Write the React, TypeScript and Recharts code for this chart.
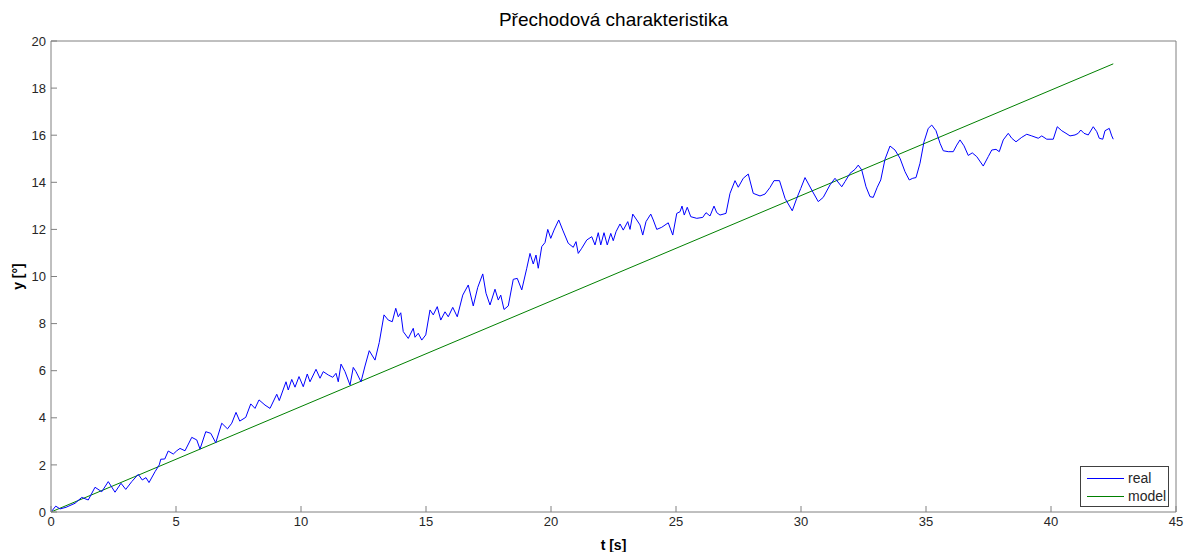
import React from 'react';
import { LineChart, Line, XAxis, YAxis } from 'recharts';

// měřená odezva (real)
const realTime = [
  0, 0.19, 0.36, 0.6, 0.96, 1.23, 1.49, 1.76, 2.03, 2.29, 2.56, 2.8, 2.99, 3.23, 3.49, 3.65, 3.8, 3.92,
  4.16, 4.33, 4.39, 4.55, 4.69, 4.89, 5.03, 5.16, 5.36, 5.63, 5.83, 5.96, 6.19, 6.39, 6.59, 6.83, 7.06,
  7.23, 7.4, 7.55, 7.79, 7.99, 8.16, 8.32, 8.56, 8.76, 9.03, 9.13, 9.4, 9.49, 9.63, 9.76, 9.92, 10.09,
  10.25, 10.36, 10.6, 10.76, 10.89, 11.09, 11.27, 11.4, 11.49, 11.6, 11.76, 11.96, 12.09, 12.2, 12.4,
  12.56, 12.73, 12.96, 13.13, 13.32, 13.49, 13.65, 13.79, 13.89, 13.99, 14.09, 14.29, 14.49, 14.56,
  14.69, 14.83, 14.99, 15.16, 15.29, 15.45, 15.59, 15.76, 15.89, 16.07, 16.25, 16.47, 16.69, 16.89,
  17.07, 17.27, 17.4, 17.56, 17.76, 17.89, 17.99, 18.12, 18.29, 18.49, 18.65, 18.83, 19.03, 19.16,
  19.29, 19.4, 19.49, 19.63, 19.76, 19.87, 19.99, 20.12, 20.31, 20.47, 20.69, 20.89, 21.0, 21.09,
  21.23, 21.43, 21.63, 21.76, 21.89, 21.99, 22.12, 22.25, 22.39, 22.49, 22.6, 22.76, 22.89, 23.07,
  23.16, 23.27, 23.43, 23.56, 23.67, 23.8, 23.99, 24.09, 24.23, 24.43, 24.69, 24.87, 25.03, 25.16,
  25.24, 25.33, 25.45, 25.59, 25.83, 26.07, 26.2, 26.36, 26.52, 26.63, 26.76, 27.0, 27.16, 27.36,
  27.49, 27.69, 27.89, 28.09, 28.36, 28.56, 28.76, 28.92, 29.14, 29.36, 29.65, 29.83, 29.99, 30.16,
  30.43, 30.69, 30.89, 31.16, 31.36, 31.63, 31.76, 31.96, 32.16, 32.29, 32.43, 32.6, 32.76, 32.89,
  33.05, 33.19, 33.36, 33.56, 33.76, 33.96, 34.16, 34.33, 34.47, 34.6, 34.76, 34.92, 35.09, 35.23,
  35.4, 35.56, 35.69, 35.89, 36.09, 36.23, 36.36, 36.52, 36.69, 36.85, 37.03, 37.29, 37.49, 37.63,
  37.8, 37.93, 38.09, 38.29, 38.43, 38.6, 38.83, 39.03, 39.23, 39.49, 39.63, 39.83, 40.09, 40.25,
  40.43, 40.6, 40.76, 40.96, 41.09, 41.19, 41.32, 41.49, 41.69, 41.83, 41.93, 42.07, 42.16, 42.33,
  42.43, 42.49,
];

const realValue = [
  0, 0.25, 0.13, 0.2, 0.37, 0.62, 0.51, 1.05, 0.86, 1.29, 0.84, 1.22, 0.96, 1.29, 1.6, 1.36, 1.46, 1.25,
  1.71, 2.0, 2.24, 2.25, 2.59, 2.46, 2.6, 2.7, 2.6, 3.17, 3.06, 2.67, 3.41, 3.34, 2.94, 3.77, 3.53,
  3.77, 4.23, 3.86, 4.02, 4.59, 4.4, 4.76, 4.54, 4.4, 5.0, 4.73, 5.53, 5.18, 5.63, 5.3, 5.75, 5.32,
  5.86, 5.53, 6.06, 5.68, 5.96, 5.82, 5.72, 5.89, 5.53, 6.28, 5.96, 5.39, 6.14, 5.96, 5.53,
  6.2, 6.85, 6.45, 7.2, 8.37, 8.15, 8.08, 8.65, 8.29, 8.46, 7.66, 7.37, 7.8, 7.42,
  7.59, 7.3, 7.52, 8.58, 8.37, 8.72, 8.15, 8.5, 8.29, 8.69, 8.29, 9.21, 9.64, 8.75,
  9.54, 10.11, 9.29, 8.79, 9.46, 9.0, 9.21, 8.6, 8.75, 9.88, 9.92, 9.43, 10.35, 10.98,
  10.53, 10.91, 10.35, 11.27, 11.44, 12.0, 11.62, 11.97, 12.4, 11.97, 11.41, 11.24, 11.48, 10.98,
  11.2, 11.55, 11.69, 11.34, 11.86, 11.34, 11.86, 11.34, 11.83, 11.52, 11.9, 12.23, 11.97, 12.33,
  12.0, 12.65, 12.4, 12.19, 11.76, 12.33, 12.65, 12.4, 12.0, 12.09, 12.28, 11.76, 12.68, 12.75,
  12.99, 12.61, 12.94, 12.54, 12.47, 12.51, 12.71, 12.57, 12.99, 12.71, 12.61, 12.68, 13.53, 14.07,
  13.79, 14.17, 14.35, 13.53, 13.42, 13.5, 13.78, 14.07, 14.07, 13.32, 12.79, 13.32, 13.74, 14.2,
  13.67, 13.18, 13.36, 13.89, 14.17, 13.81, 14.03, 14.38, 14.55, 14.73, 14.52, 13.81, 13.39, 13.36,
  13.79, 14.1, 14.98, 15.54, 15.37, 15.02, 14.45, 14.1, 14.17, 14.2, 14.81, 15.72, 16.29, 16.43,
  16.19, 15.66, 15.34, 15.3, 15.3, 15.58, 15.8, 15.55, 15.14, 15.25, 15.09, 14.69, 15.09, 15.37,
  15.4, 15.3, 15.8, 16.08, 15.87, 15.72, 15.91, 16.04, 15.97, 15.87, 15.97, 15.83, 15.83, 16.36,
  16.19, 16.08, 15.97, 16.01, 16.08, 16.22, 16.08, 16.01, 16.36, 16.15, 15.87, 15.83, 16.19, 16.29,
  15.97, 15.83,
];

// model – přímka
const modelTime = [0, 42.49];
const modelValue = [0, 19.03];

const xTicks = [0, 5, 10, 15, 20, 25, 30, 35, 40, 45];
const yTicks = [0, 2, 4, 6, 8, 10, 12, 14, 16, 18, 20];

const realData = realTime.map((t, i) => ({ t, y: realValue[i] }));
const modelData = modelTime.map((t, i) => ({ t, y: modelValue[i] }));

const FONT = '"Liberation Sans", Arial, sans-serif';
const frame = '#808080';
const tickStyle = { fill: '#262626', fontSize: 13, fontFamily: FONT };

const legendItems = [
  { name: 'real', color: '#0000ff' },
  { name: 'model', color: '#008000' },
];

const App: React.FC = () => {
  return (
    <div style={{ position: 'absolute', left: 0, top: 0, width: 1192, height: 552, background: '#fff', fontFamily: FONT }}>
      <div style={{ position: 'absolute', left: 0, top: 9, width: 1227, textAlign: 'center', fontSize: 19, color: '#000' }}>
        Přechodová charakteristika
      </div>
      <LineChart
        width={1192}
        height={552}
        margin={{ top: 40, right: 15, left: 0, bottom: 0 }}
      >
        <XAxis
          xAxisId="bottom"
          dataKey="t"
          type="number"
          domain={[0, 45]}
          ticks={xTicks}
          allowDataOverflow
          stroke={frame}
          tickSize={-6}
          tickMargin={11}
          height={40}
          tick={tickStyle}
          label={{ value: 't [s]', position: 'insideBottom', offset: 2, style: { fill: '#000', fontSize: 14, fontWeight: 'bold', fontFamily: FONT } }}
        />
        <XAxis
          xAxisId="top"
          orientation="top"
          dataKey="t"
          type="number"
          domain={[0, 45]}
          ticks={xTicks}
          stroke={frame}
          tickSize={-6}
          tickMargin={0}
          height={1}
          tick={{ fontSize: 1 }}
          tickFormatter={() => ''}
        />
        <YAxis
          yAxisId="left"
          type="number"
          domain={[0, 20]}
          ticks={yTicks}
          stroke={frame}
          tickSize={-6}
          tickMargin={11}
          width={51}
          tick={tickStyle}
          label={{ value: 'y [°]', angle: -90, position: 'insideLeft', offset: 18, style: { fill: '#000', fontSize: 14, fontWeight: 'bold', fontFamily: FONT, textAnchor: 'middle' } }}
        />
        <YAxis
          yAxisId="right"
          orientation="right"
          type="number"
          domain={[0, 20]}
          ticks={yTicks}
          stroke={frame}
          tickSize={-6}
          tickMargin={0}
          width={1}
          tick={{ fontSize: 1 }}
          tickFormatter={() => ''}
        />
        <Line
          xAxisId="bottom"
          yAxisId="left"
          data={modelData}
          dataKey="y"
          type="linear"
          stroke="#008000"
          strokeWidth={1}
          dot={false}
          isAnimationActive={false}
        />
        <Line
          xAxisId="bottom"
          yAxisId="left"
          data={realData}
          dataKey="y"
          type="linear"
          stroke="#0000ff"
          strokeWidth={1}
          dot={false}
          isAnimationActive={false}
        />
      </LineChart>
      <div
        style={{
          position: 'absolute', left: 1080, top: 466, width: 89, height: 41,
          border: '1px solid #404040', background: '#fff', boxSizing: 'border-box',
          fontSize: 14, color: '#262626',
        }}
      >
        {legendItems.map((s, i) => (
          <div key={s.name} style={{ position: 'absolute', left: 6, top: 3 + i * 18, height: 16, display: 'flex', alignItems: 'center' }}>
            <svg width={37} height={16} style={{ marginRight: 4 }}>
              <line x1={0} y1={8.5} x2={37} y2={8.5} stroke={s.color} strokeWidth={1} />
            </svg>
            <span>{s.name}</span>
          </div>
        ))}
      </div>
    </div>
  );
};

export default App;
